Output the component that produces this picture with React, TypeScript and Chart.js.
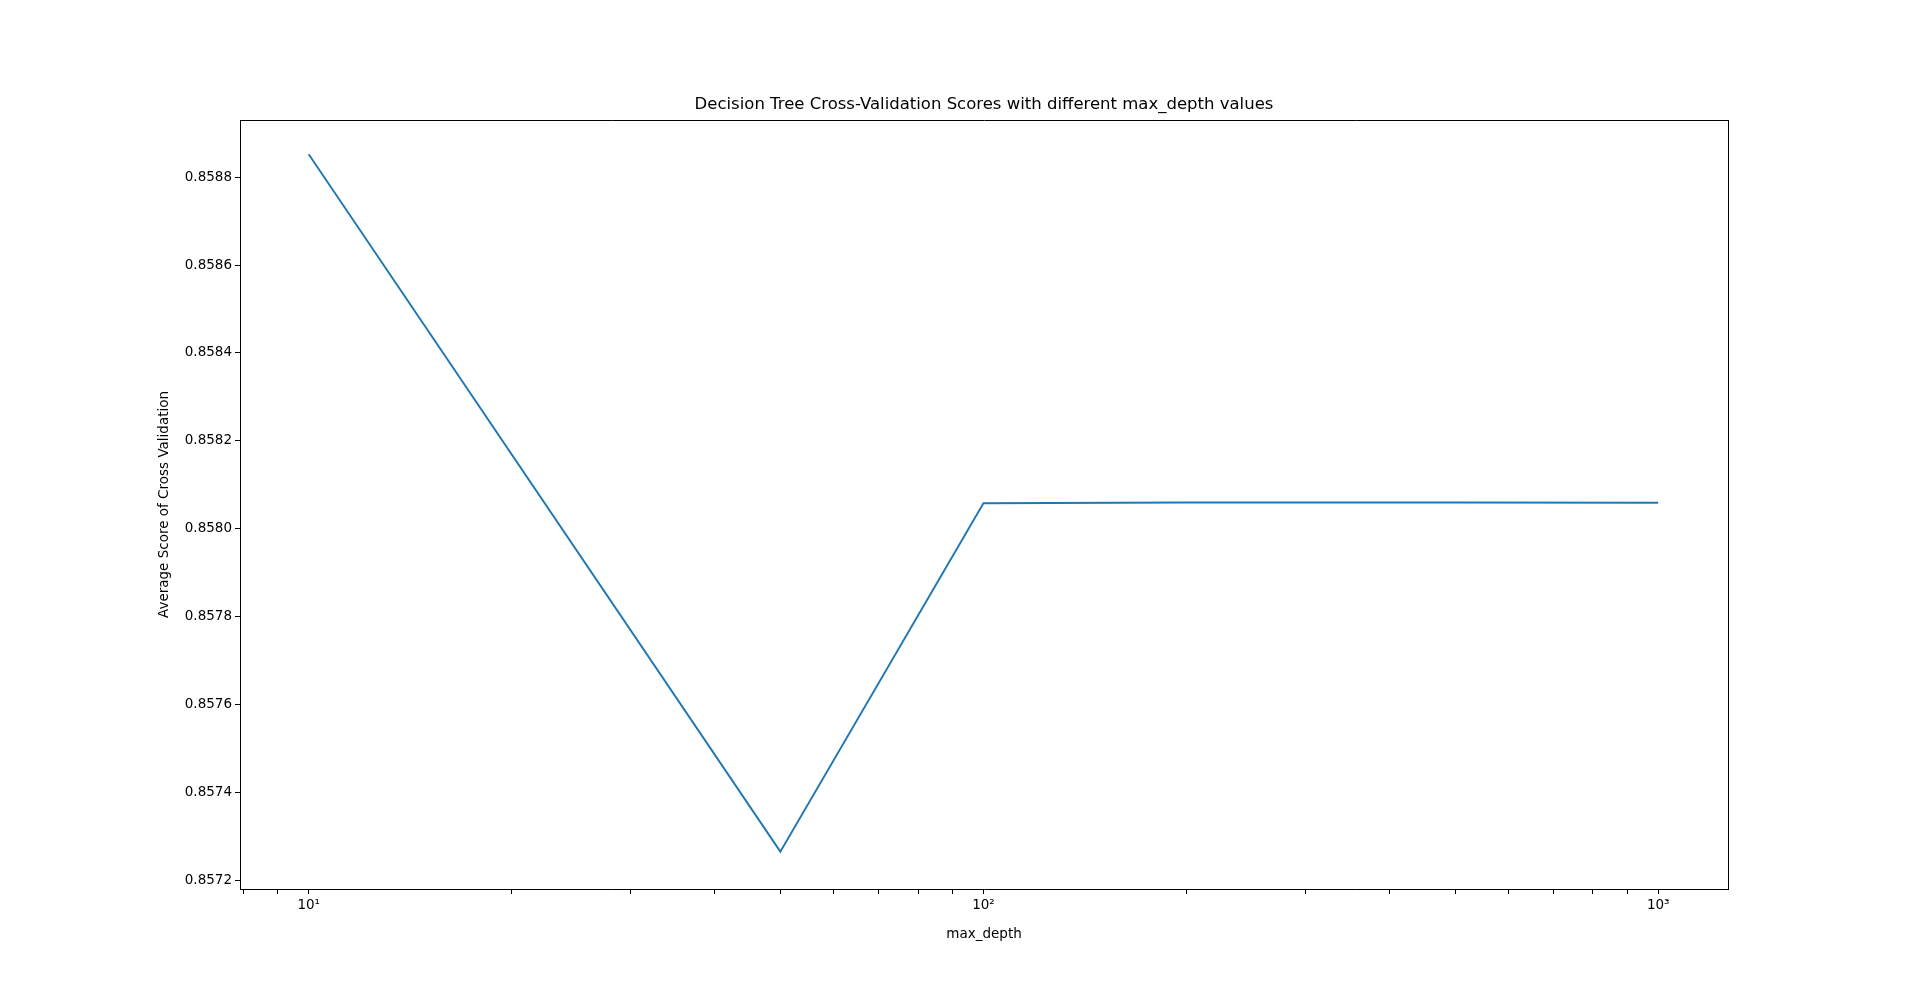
import React, { useEffect, useRef } from "react";
import { Chart, registerables } from "chart.js";
Chart.register(...registerables);

const depths = [10, 50, 100, 200, 500, 1000];
const scores = [0.858852, 0.857265, 0.858058, 0.8580595, 0.8580595, 0.858059];
const yTicks = [0.8572, 0.8574, 0.8576, 0.8578, 0.858, 0.8582, 0.8584, 0.8586, 0.8588];
const xMajor = [10, 100, 1000];
const xTicksAll = [8, 9, 10, 20, 30, 40, 50, 60, 70, 80, 90, 100, 200, 300, 400, 500, 600, 700, 800, 900, 1000];
const sup: Record<number, string> = { 10: "10¹", 100: "10²", 1000: "10³" };
const TITLE = "Decision Tree Cross-Validation Scores with different max_depth values";

export default function App() {
  const ref = useRef<HTMLCanvasElement>(null);
  useEffect(() => {
    document.body.style.margin = "0";
    const font = { family: "DejaVu Sans", size: 13.5 };
    const titlePlugin = {
      id: "t",
      afterDraw(c: any) {
        const ctx = c.ctx;
        ctx.save();
        ctx.font = "16.5px DejaVu Sans";
        ctx.fillStyle = "#000";
        ctx.textAlign = "center";
        ctx.textBaseline = "bottom";
        ctx.fillText(TITLE, (c.chartArea.left + c.chartArea.right) / 2, c.chartArea.top - 7);
        ctx.restore();
      },
    };
    const chart = new Chart(ref.current!, {
      type: "line",
      data: {
        datasets: [{
          data: depths.map((d, i) => ({ x: d, y: scores[i] })),
          borderColor: "#1f77b4", borderWidth: 1.9, pointRadius: 0, tension: 0, fill: false,
        }],
      },
      options: {
        animation: false, responsive: false,
        layout: { padding: { left: 156, right: 192, top: 120, bottom: 38 } },
        plugins: { legend: { display: false }, tooltip: { enabled: false } },
        scales: {
          x: {
            type: "logarithmic", min: 7.91, max: 1269,
            afterBuildTicks: (s: any) => { s.ticks = xTicksAll.map((v) => ({ value: v })); },
            afterFit: (s: any) => { s.height = 56; },
            grid: { display: true, drawOnChartArea: false, drawTicks: true, tickLength: 5, color: "#000" },
            border: { display: true, color: "#000" },
            ticks: { font, color: "#000", autoSkip: false, maxRotation: 0, callback: (v: any) => (xMajor.includes(Number(v)) ? sup[Number(v)] : "") },
            title: { display: true, text: "max_depth", font, color: "#000", padding: 2 },
          },
          y: {
            type: "linear", min: 0.85718, max: 0.85893,
            afterBuildTicks: (s: any) => { s.ticks = yTicks.map((v) => ({ value: v })); },
            afterFit: (s: any) => { s.width = 84; },
            grid: { display: true, drawOnChartArea: false, drawTicks: true, tickLength: 5, color: "#000" },
            border: { display: true, color: "#000" },
            ticks: { font, color: "#000", callback: (v: any) => Number(v).toFixed(4) },
            title: { display: true, text: "Average Score of Cross Validation", font, color: "#000", padding: 0 },
          },
          x2: { position: "top", display: true, grid: { display: false }, ticks: { display: false }, border: { display: true, color: "#000" }, afterFit: (s: any) => { s.height = 0; } },
          y2: { position: "right", display: true, grid: { display: false }, ticks: { display: false }, border: { display: true, color: "#000" }, afterFit: (s: any) => { s.width = 0; } },
        },
      } as any,
      plugins: [titlePlugin],
    });
    return () => chart.destroy();
  }, []);
  return <canvas ref={ref} width={1920} height={983} style={{ display: "block" }} />;
}
